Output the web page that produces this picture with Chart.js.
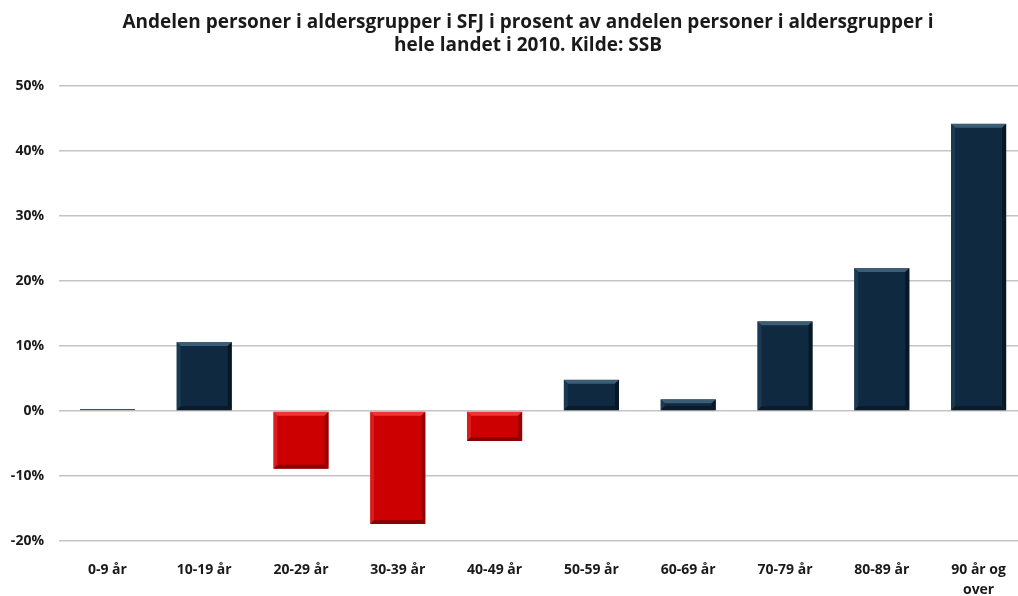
<!DOCTYPE html>
<html>
<head>
<meta charset="utf-8">
<script src="https://cdn.jsdelivr.net/npm/chart.js@4/dist/chart.umd.min.js"></script>
<style>
  html, body { margin: 0; padding: 0; background: #fff; overflow: hidden; }
  #wrap { width: 1056px; height: 596px; }
</style>
</head>
<body>
<div id="wrap"><canvas id="grafico"></canvas></div>
<script>
const kategorier = ['0-9 år', '10-19 år', '20-29 år', '30-39 år', '40-49 år', '50-59 år',
  '60-69 år', '70-79 år', '80-89 år', ['90 år og', 'over']];
const andeler = [0.1, 10.6, -8.9, -17.4, -4.6, 4.8, 1.8, 13.8, 22.0, 44.2];
const yTicks = [-20, -10, 0, 10, 20, 30, 40, 50];

const tittel = ['Andelen personer i aldersgrupper i SFJ i prosent av andelen personer i aldersgrupper i',
  'hele landet i 2010. Kilde: SSB'];

const fonte = '"Open Sans", "Liberation Sans", Arial, sans-serif';

const corPositiva = '#0f2a40';
const corNegativa = '#cc0000';

// tons do chanfro: topo, esquerda, direita, base
const chanfroPos = ['#3d5d74', '#1b3a52', '#081725', '#0a1a28'];
const chanfroNeg = ['#f03434', '#dc1c1c', '#960000', '#8a0000'];

const chanfro = {
  id: 'chanfro',
  afterDatasetsDraw(chart) {
    const ctx = chart.ctx;
    chart.getDatasetMeta(0).data.forEach((bar, i) => {
      const p = bar.getProps(['x', 'y', 'base', 'width'], true);
      const l = p.x - p.width / 2, r = p.x + p.width / 2;
      const t = Math.min(p.y, p.base), b = Math.max(p.y, p.base);
      const d = Math.min(4, (b - t) / 2);
      if (d < 1) return;
      const tons = andeler[i] < 0 ? chanfroNeg : chanfroPos;
      const poly = (pts, cor) => {
        ctx.beginPath();
        ctx.moveTo(pts[0][0], pts[0][1]);
        pts.slice(1).forEach(q => ctx.lineTo(q[0], q[1]));
        ctx.closePath();
        ctx.fillStyle = cor;
        ctx.fill();
      };
      ctx.save();
      poly([[l, t], [r, t], [r - d, t + d], [l + d, t + d]], tons[0]);
      poly([[l, t], [l + d, t + d], [l + d, b - d], [l, b]], tons[1]);
      poly([[r, t], [r, b], [r - d, b - d], [r - d, t + d]], tons[2]);
      poly([[l, b], [l + d, b - d], [r - d, b - d], [r, b]], tons[3]);
      ctx.restore();
    });
  }
};

new Chart(document.getElementById('grafico'), {
  type: 'bar',
  data: {
    labels: kategorier,
    datasets: [{
      data: andeler,
      backgroundColor: andeler.map(v => v < 0 ? corNegativa : corPositiva),
      borderColor: andeler.map(v => v < 0 ? '#e04040' : '#3c5266'),
      borderWidth: 1,
      borderSkipped: false,
      minBarLength: 2,
      barPercentage: 0.57,
      categoryPercentage: 1
    }]
  },
  options: {
    responsive: true,
    maintainAspectRatio: false,
    animation: false,
    plugins: {
      legend: { display: false },
      tooltip: { enabled: false },
      title: {
        display: true,
        text: tittel,
        color: '#1a1a1a',
        font: { family: fonte, size: 19, weight: 'bold', lineHeight: 1.21 },
        padding: { top: 11.5, bottom: 28.5 }
      }
    },
    scales: {
      x: {
        grid: { display: false },
        border: { display: false },
        ticks: {
          color: '#1a1a1a',
          font: { family: fonte, size: 14, weight: 'bold', lineHeight: 1.45 },
          padding: 11,
          maxRotation: 0,
          autoSkip: false
        },
        afterFit: s => { s.height = 55; }
      },
      y: {
        min: -20,
        max: 50,
        afterBuildTicks: s => { s.ticks = yTicks.map(v => ({ value: v })); },
        grid: { color: '#c4c4c4', lineWidth: 1.5, drawTicks: false },
        border: { display: false },
        ticks: {
          color: '#1a1a1a',
          font: { family: fonte, size: 14, weight: 'bold' },
          padding: 15,
          callback: v => v + '%'
        },
        afterFit: s => { s.width = 59; }
      },
      direita: {
        position: 'right',
        display: true,
        grid: { display: false },
        border: { display: false },
        ticks: { display: false },
        afterFit: s => { s.width = 29; }
      }
    }
  },
  plugins: [chanfro]
});
</script>
</body>
</html>
